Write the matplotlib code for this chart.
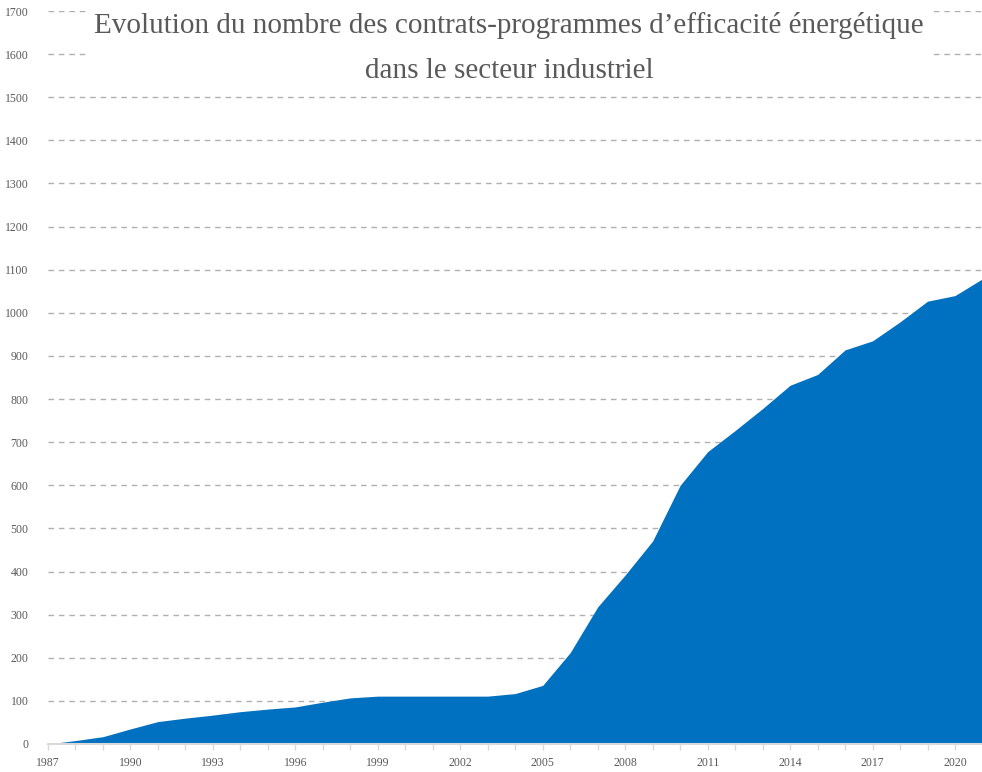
import matplotlib
matplotlib.use("Agg")
import matplotlib.pyplot as plt
import numpy as np

years = list(range(1987, 2022))
contracts = [0, 8, 17, 35, 52, 60, 67, 75, 81, 86, 97, 107, 111, 111, 111, 111, 111,
             117, 136, 212, 318, 392, 471, 600, 678, 727, 778, 832, 857, 914, 935,
             979, 1027, 1040, 1079]
title_text = "Evolution du nombre des contrats-programmes d\u2019efficacit\u00e9 \u00e9nerg\u00e9tique\ndans le secteur industriel"
xtick_years = list(range(1987, 2022, 3))
yticks = list(range(0, 1800, 100))

W, H = 982, 772
fig = plt.figure(figsize=(W/100, H/100), dpi=100)
ax = fig.add_axes([48/W, 1-744/H, (982.5-48)/W, (744-11)/H])

ax.fill_between(years, contracts, 0, color="#0070C0", linewidth=0, zorder=2)
ax.set_xlim(1987, 2021)
ax.set_ylim(0, 1700)

for v in yticks[1:]:
    ax.axhline(v, color="#b0b0b0", linewidth=1, linestyle=(0, (4, 3.5)), zorder=1)

for s in ["top", "right", "left"]:
    ax.spines[s].set_visible(False)
ax.spines["bottom"].set_color("#d9d9d9")
ax.spines["bottom"].set_linewidth(1.5)
ax.spines["bottom"].set_zorder(3)

ax.set_xticks(years, minor=True)
ax.set_xticks(xtick_years)
ax.set_xticklabels([str(y) for y in xtick_years])
ax.tick_params(axis="x", which="both", length=4, color="#d9d9d9", width=1,
               direction="out", labelsize=8.5, labelcolor="#595959", pad=5)
ax.set_yticks(yticks)
ax.set_yticklabels([str(v) for v in yticks])
ax.tick_params(axis="y", length=0, labelsize=8.5, labelcolor="#595959", pad=14)
for lab in ax.get_xticklabels() + ax.get_yticklabels():
    lab.set_fontfamily("Liberation Serif")

fig.text(509/W, 1-48/H, title_text, ha="center", va="center", fontsize=21,
         color="#595959", family="Liberation Serif", linespacing=1.95,
         bbox=dict(facecolor="white", edgecolor="none", pad=6), zorder=5)

fig.savefig("out.png", dpi=100, facecolor="white")
